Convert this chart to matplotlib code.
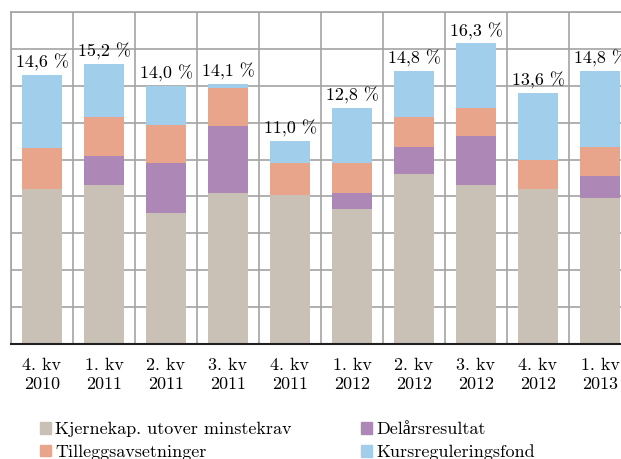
import numpy as np
import matplotlib
matplotlib.use("Agg")
import matplotlib.pyplot as plt
from matplotlib.patches import Patch

plt.rcParams['font.family'] = ['cmr10', 'Liberation Serif', 'DejaVu Serif']
plt.rcParams['axes.formatter.use_mathtext'] = True

# kvartal
kvartaler = ['4. kv\n2010', '1. kv\n2011', '2. kv\n2011', '3. kv\n2011', '4. kv\n2011',
             '1. kv\n2012', '2. kv\n2012', '3. kv\n2012', '4. kv\n2012', '1. kv\n2013']

# komponenter, prosent
kjernekap = [8.4, 8.6, 7.1, 8.2, 8.1, 7.3, 9.2, 8.6, 8.4, 7.9]
delars = [0.0, 1.6, 2.7, 3.6, 0.0, 0.9, 1.5, 2.7, 0.0, 1.2]
tillegg = [2.2, 2.1, 2.1, 2.1, 1.7, 1.6, 1.6, 1.5, 1.6, 1.6]
kursreg = [4.0, 2.9, 2.1, 0.2, 1.2, 3.0, 2.5, 3.5, 3.6, 4.1]
totalt = ['14,6 %', '15,2 %', '14,0 %', '14,1 %', '11,0 %',
          '12,8 %', '14,8 %', '16,3 %', '13,6 %', '14,8 %']

farger = ['#c9c0b6', '#ad88b7', '#e8a58c', '#a1cfeb']
navn = ['Kjernekap. utover minstekrav', 'Delårsresultat',
        'Tilleggsavsetninger', 'Kursreguleringsfond']

fig = plt.figure(figsize=(6.21, 4.59), dpi=100)
ax = fig.add_axes([11 / 621, 115 / 459, 620 / 621, 332 / 459])

x = np.arange(len(kvartaler))
bunn = np.zeros(len(x))
for verdier, farge in zip([kjernekap, delars, tillegg, kursreg], farger):
    ax.bar(x, verdier, width=0.66, bottom=bunn, color=farge, linewidth=0, zorder=2)
    bunn = bunn + np.array(verdier)

for xi, topp, tekst in zip(x, bunn, totalt):
    ax.text(xi, topp + 0.2, tekst, ha='center', va='bottom', fontsize=13)

ax.set_xlim(-0.5, 9.5)
ax.set_ylim(0, 18)
ax.set_yticks(np.arange(0, 19, 2))
ax.set_yticklabels([])
ax.set_xticks(x)
ax.set_xticklabels(kvartaler, fontsize=13, linespacing=1.3)
ax.set_xticks(np.arange(-0.5, 10, 1), minor=True)
ax.tick_params(axis='both', which='both', length=0)
ax.tick_params(axis='x', pad=10)
ax.grid(True, axis='y', color='#a3a3a3', linewidth=1.2, zorder=0)
ax.grid(True, axis='x', which='minor', color='#a3a3a3', linewidth=1.2, zorder=0)
ax.set_axisbelow(True)

for s in ['top', 'left', 'right']:
    ax.spines[s].set_color('#a3a3a3')
    ax.spines[s].set_linewidth(1.2)
ax.spines['bottom'].set_color('#202020')
ax.spines['bottom'].set_linewidth(1.5)

# legende
handles = [Patch(color=farger[0]), Patch(color=farger[2]),
           Patch(color=farger[1]), Patch(color=farger[3])]
labels = [navn[0], navn[2], navn[1], navn[3]]
fig.legend(handles, labels, loc='upper left', bbox_to_anchor=(40 / 621, 1 - 422 / 459),
           ncol=2, frameon=False, fontsize=13, handlelength=0.6, handleheight=0.6,
           handletextpad=0.25, columnspacing=3.85, labelspacing=0.4,
           borderpad=0, borderaxespad=0)

fig.savefig('out.png', dpi=100)
